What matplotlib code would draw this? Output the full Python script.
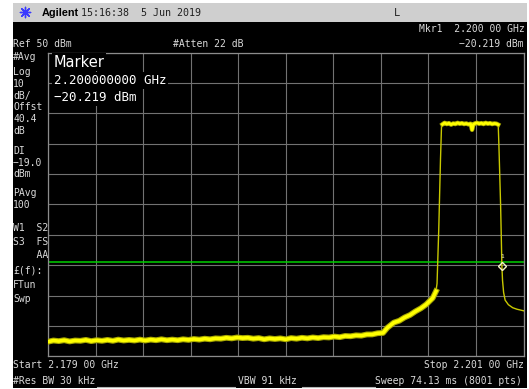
import matplotlib
matplotlib.use("Agg")
import matplotlib.pyplot as plt
from matplotlib.patches import Rectangle
import numpy as np

# ---------------- data ----------------
f_start_ghz = 2.17900
f_stop_ghz = 2.20100
ref_level_dbm = 50.0
db_per_div = 10.0
display_line_dbm = -19.0
marker_freq_ghz = 2.20000
marker_level_dbm = -20.219

# noise floor, MHz offset from start -> dBm
floor_mhz = [0.00, 0.25, 0.50, 0.75, 1.00, 1.25, 1.50, 1.75, 2.00, 2.25, 2.50, 2.75,
             3.00, 3.25, 3.50, 3.75, 4.00, 4.25, 4.50, 4.75, 5.00, 5.25, 5.50, 5.75,
             6.00, 6.25, 6.50, 6.75, 7.00, 7.25, 7.50, 7.75, 8.00, 8.25, 8.50, 8.75,
             9.00, 9.25, 9.50, 9.75, 10.00, 10.25, 10.50, 10.75, 11.00, 11.25, 11.50,
             11.75, 12.00, 12.25, 12.50, 12.75, 13.00, 13.25, 13.50, 13.75, 14.00,
             14.25, 14.50, 14.75, 15.00, 15.25, 15.50, 15.70, 16.00, 16.25, 16.50,
             16.75, 17.00, 17.25, 17.50, 17.80, 17.95]
floor_dbm = [-45.2, -44.8, -45.0, -44.7, -45.1, -44.8, -44.9, -44.6, -45.0, -44.7, -44.9, -44.6,
             -44.9, -44.5, -44.8, -44.6, -44.8, -44.5, -44.8, -44.5, -44.7, -44.4, -44.7, -44.5,
             -44.7, -44.4, -44.6, -44.3, -44.5, -44.2, -44.4, -44.1, -44.2, -43.9, -44.1, -43.8,
             -44.0, -43.9, -44.2, -44.0, -44.4, -44.1, -44.3, -44.1, -44.4, -44.0, -44.2,
             -43.9, -44.1, -43.8, -44.0, -43.7, -43.8, -43.5, -43.7, -43.3, -43.4,
             -43.1, -43.2, -42.8, -42.8, -42.4, -42.3, -40.6, -38.9, -38.3, -37.2,
             -36.4, -35.2, -34.2, -32.9, -30.8, -28.6]

# rising edge
rise_mhz = [18.00, 18.04, 18.08, 18.12, 18.16, 18.21]
rise_dbm = [-26.0, -17.0, -8.0, 3.6, 15.0, 26.5]

# pass band plateau
plateau_mhz = [18.25, 18.35, 18.45, 18.55, 18.65, 18.75, 18.85, 18.95, 19.05, 19.15,
               19.25, 19.35, 19.45, 19.55, 19.62, 19.68, 19.75, 19.85, 19.95, 20.05,
               20.15, 20.25, 20.35, 20.45, 20.55, 20.65, 20.75, 20.83]
plateau_dbm = [26.4, 26.9, 26.5, 26.8, 26.3, 26.7, 26.5, 26.9, 26.6, 26.8,
               26.5, 26.7, 26.4, 26.6, 24.6, 26.4, 26.7, 26.9, 26.6, 26.8,
               26.5, 26.9, 26.6, 26.8, 26.5, 26.7, 26.6, 26.3]

# falling edge and right-hand skirt
fall_mhz = [20.86, 20.90, 20.94, 20.97, 21.00, 21.03, 21.08, 21.15, 21.30, 21.50, 21.70, 22.00]
fall_dbm = [20.0, 10.0, 0.0, -10.0, -20.2, -25.0, -29.0, -31.5, -33.0, -34.0, -34.5, -35.0]

# ---------------- figure ----------------
W, H = 529, 389
fig = plt.figure(figsize=(W / 100, H / 100), dpi=100)
fig.patch.set_facecolor("white")

# background (behind graticule)
bg2 = fig.add_axes([0, 0, 1, 1], zorder=0)
bg2.set_xlim(0, W); bg2.set_ylim(H, 0); bg2.axis("off")
bg2.add_patch(Rectangle((13, 2.5), 514, 19.5, color="#cfcfcf", lw=0))
bg2.add_patch(Rectangle((13, 22), 514, 366, color="black", lw=0))

# text overlay (above graticule)
bg = fig.add_axes([0, 0, 1, 1], zorder=2)
bg.set_xlim(0, W); bg.set_ylim(H, 0); bg.axis("off")
bg.patch.set_visible(False)

MONO = "DejaVu Sans Mono"
TXT = "#dadada"
FS = 7.0

def t(x, y, s, ha="left", **kw):
    kw.setdefault("fontsize", FS)
    kw.setdefault("color", TXT)
    kw.setdefault("family", MONO)
    bg.text(x, y, s, ha=ha, va="center", **kw)

# title bar
bg.scatter([25], [12], marker=(8, 2, 0), s=55, color="#3a3aff", linewidths=1.0)
bg.text(42, 12.5, "Agilent", ha="left", va="center", fontsize=7.8, fontweight="bold",
        family="Liberation Sans", color="black")
t(81, 12.5, "15:16:38  5 Jun 2019", color="#202020", fontsize=7.2)
t(397, 12.5, "L", ha="center", color="#202020", fontsize=7.5)

# header
t(525, 28.5, "Mkr1  2.200 00 GHz", ha="right")
t(524, 43.5, "\u221220.219 dBm", ha="right")
t(13, 44, "Ref 50 dBm")
t(173, 44, "#Atten 22 dB")

# left panel
left_lines = [("#Avg", 57), ("Log", 71.5), ("10", 83.5), ("dB/", 95.5), ("Offst", 107),
              ("40.4", 118.5), ("dB", 130.5), ("DI", 150.5), ("\u221219.0", 162.5),
              ("dBm", 173.5), ("PAvg", 193), ("100", 204.5), ("W1  S2", 228),
              ("S3  FS", 242), ("    AA", 255.5), ("\u00a3(f):", 270.5),
              ("FTun", 285), ("Swp", 299.5)]
for s, y in left_lines:
    t(13, y, s)

# footer
t(13, 365.5, "Start 2.179 00 GHz")
t(524, 365.5, "Stop 2.201 00 GHz", ha="right")
t(13, 381, "#Res BW 30 kHz")
t(238, 381, "VBW 91 kHz")
t(522, 381, "Sweep 74.13 ms (8001 pts)", ha="right")
bg.plot([97, 235], [386.5, 386.5], color="#b4b4b4", lw=0.8)
bg.plot([302, 375], [386.5, 386.5], color="#b4b4b4", lw=0.8)

# ---------------- graticule ----------------
gx0, gx1, gy0, gy1 = 48, 523.5, 52.7, 356.3
ax = fig.add_axes([gx0 / W, 1 - gy1 / H, (gx1 - gx0) / W, (gy1 - gy0) / H], zorder=1)
ax.set_facecolor("black")
ax.set_xlim(f_start_ghz, f_stop_ghz)
bottom = ref_level_dbm - 10 * db_per_div
ax.set_ylim(bottom, ref_level_dbm)
ax.set_xticks(np.linspace(f_start_ghz, f_stop_ghz, 11))
ax.set_yticks(np.linspace(bottom, ref_level_dbm, 11))
ax.tick_params(length=0, labelbottom=False, labelleft=False)
ax.grid(True, color="#727272", lw=0.8)
ax.set_axisbelow(True)
for sp in ax.spines.values():
    sp.set_color("#8c8c8c")
    sp.set_linewidth(0.9)

def ghz(mhz_list):
    return [f_start_ghz + m / 1000.0 for m in mhz_list]

all_f = ghz(floor_mhz + rise_mhz + plateau_mhz + fall_mhz)
all_d = floor_dbm + rise_dbm + plateau_dbm + fall_dbm

ax.axhline(display_line_dbm, color="#00d000", lw=1.1, zorder=2)

ax.plot(all_f, all_d, color="#c8c800", lw=1.0, zorder=3)
ax.plot(ghz(floor_mhz), floor_dbm, color="#a8a800", lw=4.2, zorder=3)
ax.plot(ghz(floor_mhz), floor_dbm, color="#ffff00", lw=2.6, zorder=4)
ax.plot(ghz(plateau_mhz), plateau_dbm, color="#a8a800", lw=3.2, zorder=3)
ax.plot(ghz(plateau_mhz), plateau_dbm, color="#ffff00", lw=2.0, zorder=4)

ax.plot([marker_freq_ghz], [marker_level_dbm], marker="D", ms=4.5, mfc="none",
        mec="#f4f4c8", mew=1.0, zorder=5)
ax.text(marker_freq_ghz, marker_level_dbm + 3.2, "1", ha="center", va="center",
        fontsize=4.5, color="#f4f4c8", family=MONO, zorder=5)

# marker readout
box = dict(facecolor="black", edgecolor="none", pad=1.2)
bg.text(54, 62, "Marker", ha="left", va="center", fontsize=10.5, family="DejaVu Sans",
        color="white", bbox=box, zorder=10)
bg.text(54, 80.5, "2.200000000 GHz", ha="left", va="center", fontsize=9.0, family=MONO,
        color="white", bbox=box, zorder=10)
bg.text(54, 97.5, "\u221220.219 dBm", ha="left", va="center", fontsize=9.0, family=MONO,
        color="white", bbox=box, zorder=10)

fig.savefig("out.png", dpi=100, facecolor=fig.get_facecolor())
